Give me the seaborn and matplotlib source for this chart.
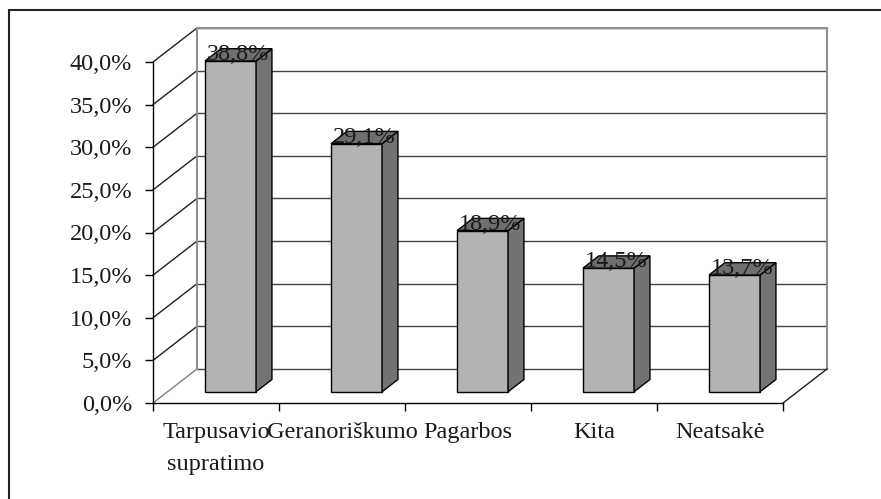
import matplotlib
matplotlib.use("Agg")
import matplotlib.pyplot as plt
from matplotlib.patches import Polygon
import seaborn as sns

categories = ["Tarpusavio\nsupratimo", "Geranoriškumo", "Pagarbos", "Kita", "Neatsakė"]
values = [38.8, 29.1, 18.9, 14.5, 13.7]
yticks = [0, 5, 10, 15, 20, 25, 30, 35, 40]

# pseudo-3D depth (in data units)
DX, DY = 0.35, 4.0          # full depth of the box
BF = 0.33                   # bar front sits at this fraction of depth
BD = 0.36                   # bar depth as fraction of full depth
FS = 17.5

sns.set_style("white")
plt.rcParams["font.family"] = ["Liberation Serif", "DejaVu Serif"]

fig = plt.figure(figsize=(8.81, 4.99), dpi=100)
ax = fig.add_axes([153 / 881, 1 - 403 / 499, 630 / 881, 341 / 499])

sns.barplot(x=categories, y=values, ax=ax, color="#b3b3b3", saturation=1,
            edgecolor="black", linewidth=1.0, width=0.405, zorder=5)

ax.set_xlim(-0.5, 4.5)
ax.set_ylim(0, 40)
x0, x1 = -0.5, 4.5

# back wall + left wall + floor
for v in yticks:
    ax.plot([x0 + DX, x1 + DX], [v + DY, v + DY], color="#444444", lw=1.0,
            clip_on=False, zorder=1)
    ax.plot([x0, x0 + DX], [v, v + DY], color="#202020" if v else "#808080",
            lw=1.0, clip_on=False, zorder=1)
ax.plot([x0 + DX, x0 + DX], [DY, 40 + DY], color="#909090", lw=1.5, clip_on=False, zorder=1)
ax.plot([x1 + DX, x1 + DX], [DY, 40 + DY], color="#909090", lw=1.5, clip_on=False, zorder=1)
ax.plot([x0 + DX, x1 + DX], [40 + DY, 40 + DY], color="#909090", lw=1.5, clip_on=False, zorder=1)
ax.plot([x1, x1 + DX], [0, DY], color="#202020", lw=1.0, clip_on=False, zorder=1)

# move bars into the middle of the depth and add side/top faces
bdx, bdy = DX * BD, DY * BD
for p, v in zip(ax.patches, values):
    p.set_x(p.get_x() + DX * BF)
    p.set_y(p.get_y() + DY * BF)
    bx0, by0 = p.get_x(), p.get_y()
    bx1, by1 = bx0 + p.get_width(), by0 + p.get_height()
    side = Polygon([(bx1, by0), (bx1 + bdx, by0 + bdy), (bx1 + bdx, by1 + bdy), (bx1, by1)],
                   closed=True, facecolor="#737373", edgecolor="black", lw=1.0,
                   zorder=5, clip_on=False)
    top = Polygon([(bx0, by1), (bx0 + bdx, by1 + bdy), (bx1 + bdx, by1 + bdy), (bx1, by1)],
                  closed=True, facecolor="#6e6e6e", edgecolor="black", lw=1.0,
                  zorder=5, clip_on=False)
    ax.add_patch(side)
    ax.add_patch(top)
    p.set_clip_on(False)
    ax.text((bx0 + bx1) / 2 + bdx / 2, by1 + bdy * 0.5, f"{v:.1f}%".replace(".", ","),
            ha="center", va="center", fontsize=FS, color="#1a1a1a", zorder=6)

# axes styling
for s in ["top", "right"]:
    ax.spines[s].set_visible(False)
for s in ["left", "bottom"]:
    ax.spines[s].set_color("black")
    ax.spines[s].set_linewidth(1.0)
    ax.spines[s].set_zorder(7)

ax.set_yticks(yticks)
ax.set_yticklabels([f"{t:.1f}%".replace(".", ",") for t in yticks], fontsize=FS, color="#1a1a1a")
ax.set_xticks([i - 0.5 for i in range(len(categories) + 1)])
ax.set_xticklabels([""] * (len(categories) + 1))
ax.set_xticks(range(len(categories)), minor=True)
ax.set_xticklabels(categories, minor=True, fontsize=FS, color="#1a1a1a", linespacing=1.65)
ax.tick_params(axis="y", which="major", left=True, length=6, width=1, pad=9, color="black")
ax.tick_params(axis="x", which="major", bottom=True, length=6, width=1, color="black")
ax.tick_params(axis="x", which="minor", bottom=False, length=0, pad=14)
ax.set_xlabel("")
ax.set_ylabel("")
ax.patch.set_alpha(0)

# outer frame (only top and left visible inside the image)
fig.add_artist(plt.Line2D([9 / 881, 9 / 881], [0, 1 - 10 / 499], color="#222222", lw=1.5,
                          transform=fig.transFigure))
fig.add_artist(plt.Line2D([9 / 881, 1], [1 - 10 / 499, 1 - 10 / 499], color="#222222", lw=1.5,
                          transform=fig.transFigure))

fig.savefig("out.png", dpi=100)
